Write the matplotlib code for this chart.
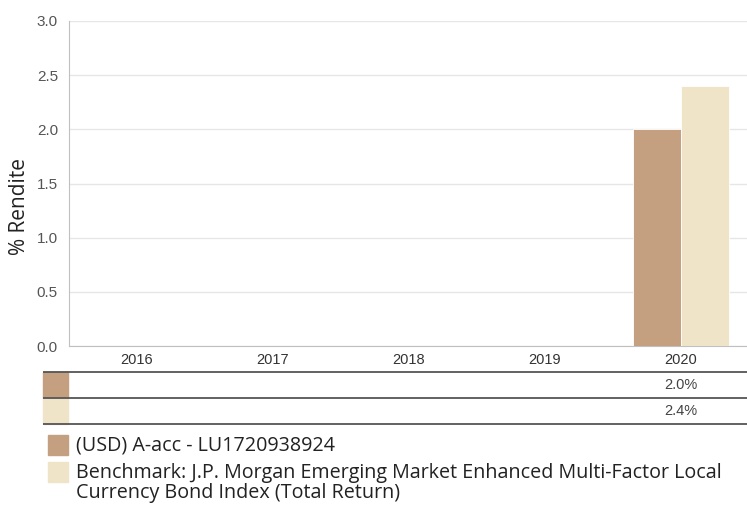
import numpy as np
import matplotlib.pyplot as plt
from matplotlib.patches import Rectangle

years = ['2016', '2017', '2018', '2019', '2020']
fund = [np.nan, np.nan, np.nan, np.nan, 2.0]
bench = [np.nan, np.nan, np.nan, np.nan, 2.4]
fund_name = '(USD) A-acc - LU1720938924'
bench_name = ('Benchmark: J.P. Morgan Emerging Market Enhanced Multi-Factor Local\n'
              'Currency Bond Index (Total Return)')
yticks = [0.0, 0.5, 1.0, 1.5, 2.0, 2.5, 3.0]

c_fund = '#c4a081'
c_bench = '#efe3c8'

W, H = 747, 505
fig = plt.figure(figsize=(W / 100, H / 100), dpi=100)


def box(x0, y0, x1, y1):
    # pixel box (top-left origin) -> figure fraction rect
    return [x0 / W, 1 - y1 / H, (x1 - x0) / W, (y1 - y0) / H]


ax = fig.add_axes(box(69, 21, 749, 346))
x = np.arange(len(years))
bw = 0.35
ax.bar(x - bw / 2, fund, bw, color=c_fund, edgecolor='white', linewidth=0.6, zorder=3)
ax.bar(x + bw / 2, bench, bw, color=c_bench, edgecolor='white', linewidth=0.6, zorder=3)
ax.set_xlim(-0.5, len(years) - 0.5)
ax.set_ylim(0, 3.0)
ax.set_yticks(yticks)
ax.set_yticklabels(['{:.1f}'.format(v) for v in yticks], fontsize=11, color='#555555',
                   family='Liberation Sans')
ax.set_xticks(x)
ax.set_xticklabels(years, fontsize=10.5, color='#333333', family='Liberation Sans')
ax.tick_params(axis='both', length=0)
ax.tick_params(axis='y', pad=8)
ax.tick_params(axis='x', pad=5)
ax.grid(axis='y', color='#e6e6e6', linewidth=1, zorder=0)
for s in ['top', 'right']:
    ax.spines[s].set_visible(False)
ax.spines['left'].set_color('#c0c0c0')
ax.spines['bottom'].set_color('#c0c0c0')
ax.set_ylabel('% Rendite', fontsize=15, color='#222222', family='Open Sans')
ax.yaxis.set_label_coords(-0.057, 0.43)

# data table under the chart
tax = fig.add_axes(box(69, 372, 749, 424))
tax.set_xlim(-0.5, len(years) - 0.5)
tax.set_ylim(2, 0)
tax.axis('off')
rows = [(fund, c_fund), (bench, c_bench)]
x_left = (43 - 69) / 680 * 5 - 0.5
for i, (vals, col) in enumerate(rows):
    tax.add_patch(Rectangle((x_left, i), 25 / 136, 1, color=col, clip_on=False))
    for j, v in enumerate(vals):
        if not np.isnan(v):
            tax.text(x[j], i + 0.5, '{:.1f}%'.format(v), ha='center', va='center',
                     fontsize=10.5, color='#444444', family='Liberation Sans')
for yl in [0, 1, 2]:
    tax.plot([x_left, len(years) - 0.5], [yl, yl], color='#555555', linewidth=1.3,
             clip_on=False, solid_capstyle='butt')

# legend
leg = [(fund_name, c_fund, 435), (bench_name, c_bench, 462)]
for name, col, top in leg:
    fig.patches.append(Rectangle((48 / W, 1 - (top + 20) / H), 20 / W, 20 / H,
                                 color=col, transform=fig.transFigure))
    fig.text(76 / W, 1 - (top + 1) / H, name, ha='left', va='top', fontsize=14.2,
             color='#222222', family='Open Sans', linespacing=1.02)

plt.savefig('out.png', dpi=100)
